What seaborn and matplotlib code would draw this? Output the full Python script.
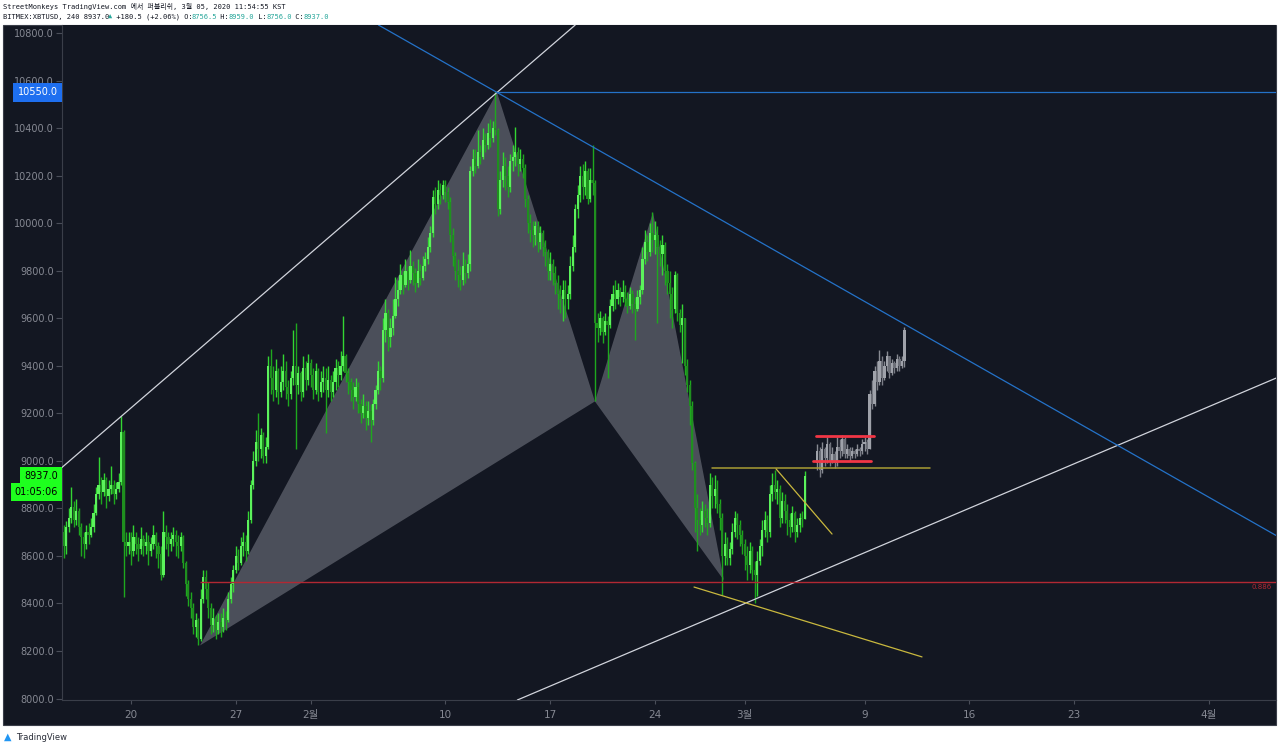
import matplotlib
matplotlib.use("Agg")
import matplotlib.pyplot as plt
import numpy as np
import pandas as pd
import seaborn as sns

# BITMEX:XBTUSD 4h candles, x axis = days since 2020-01-01 (one row per day)
start_day = 14.5
first_open = 8700.0
closes = [
    8640, 8720, 8760,
    8805, 8750, 8790, 8720, 8680, 8650,
    8700, 8690, 8720, 8780, 8860, 8900,
    8870, 8920, 8850, 8880, 8900, 8860,
    8880, 8910, 9120, 8660, 8640, 8660,
    8620, 8680, 8650, 8630, 8670, 8640,
    8660, 8620, 8650, 8690, 8640, 8610,
    8520, 8700, 8680, 8650, 8670, 8690,
    8660, 8640, 8680, 8570, 8480, 8420,
    8380, 8300, 8330, 8250, 8420, 8510,
    8460, 8380, 8310, 8340, 8290, 8320,
    8300, 8340, 8330, 8420, 8480, 8540,
    8600, 8570, 8640, 8660, 8620, 8750,
    8900, 9000, 9080, 9050, 9110, 9020,
    9060, 9400, 9350, 9300, 9380, 9290,
    9330, 9380, 9310, 9280, 9350, 9400,
    9320, 9370, 9290, 9390, 9340, 9410,
    9360, 9300, 9380, 9290, 9330, 9350,
    9300, 9340, 9290, 9330, 9390, 9360,
    9400, 9440, 9370, 9330, 9300, 9270,
    9310, 9240, 9200, 9230, 9180, 9210,
    9170, 9240, 9300, 9380, 9350, 9550,
    9620, 9520, 9560, 9610, 9680, 9720,
    9780, 9740, 9800, 9760, 9820, 9790,
    9750, 9800, 9770, 9820, 9850, 9900,
    9960, 10110, 10080, 10140, 10120, 10160,
    10130, 10090, 9950, 9860, 9800, 9780,
    9760, 9820, 9790, 9830, 10220, 10270,
    10240, 10300, 10280, 10350, 10330, 10380,
    10360, 10400, 10390, 10060, 10180, 10240,
    10200, 10150, 10260, 10280, 10300, 10250,
    10270, 10230, 10100, 10000, 9970, 9950,
    9990, 9920, 9960, 9900, 9880, 9800,
    9830, 9790, 9750, 9700, 9680, 9720,
    9680, 9700, 9820, 9900, 10060, 10120,
    10200, 10150, 10220, 10100, 10180, 10170,
    9580, 9560, 9600, 9540, 9590, 9570,
    9650, 9700, 9680, 9720, 9690, 9710,
    9680, 9650, 9700, 9660, 9640, 9690,
    9720, 9850, 9920, 9880, 9960, 9930,
    9950, 9900, 9870, 9910, 9800, 9750,
    9700, 9640, 9780, 9620, 9570, 9600,
    9400, 9320, 9230, 8990, 8800, 8750,
    8730, 8790, 8760, 8740, 8900, 8850,
    8880, 8820, 8760, 8600, 8650, 8590,
    8630, 8700, 8760, 8730, 8690, 8650,
    8600, 8560, 8620, 8540, 8520, 8580,
    8640, 8710, 8750, 8700, 8860, 8900,
    8870, 8880, 8760, 8830, 8790, 8750,
    8720, 8780, 8700, 8730, 8760, 8756.5,
    8937,
]
highs = [
    8730, 8745, 8800,
    8888, 8830, 8840, 8800, 8740, 8700,
    8730, 8740, 8760, 8820, 8890, 9015,
    8930, 8950, 8930, 8920, 8980, 8920,
    8910, 8950, 9190, 9130, 8700, 8700,
    8700, 8730, 8700, 8680, 8720, 8690,
    8700, 8690, 8680, 8730, 8700, 8660,
    8640, 8790, 8730, 8700, 8700, 8720,
    8710, 8690, 8700, 8690, 8580, 8500,
    8450, 8400, 8360, 8340, 8460, 8540,
    8540, 8490, 8400, 8380, 8350, 8360,
    8360, 8380, 8370, 8450, 8510, 8560,
    8640, 8630, 8680, 8700, 8690, 8790,
    8920, 9040, 9130, 9200, 9140, 9120,
    9100, 9440, 9470, 9400, 9430, 9390,
    9400, 9450, 9420, 9340, 9380, 9550,
    9580, 9400, 9380, 9440, 9420, 9450,
    9430, 9390, 9410, 9390, 9380, 9400,
    9390, 9400, 9360, 9380, 9430, 9420,
    9460, 9610, 9450, 9390, 9350, 9330,
    9350, 9330, 9260, 9280, 9250, 9250,
    9240, 9260, 9320, 9420, 9400, 9600,
    9680, 9640, 9600, 9680, 9775, 9760,
    9830, 9800, 9850, 9820, 9885, 9840,
    9810, 9850, 9830, 9860, 9880, 9940,
    9990, 10140, 10150, 10180, 10170, 10180,
    10180, 10150, 10110, 9980, 9880, 9850,
    9820, 9880, 9850, 9870, 10240, 10310,
    10310, 10390, 10330, 10400, 10380, 10420,
    10440, 10430, 10550, 10400, 10220, 10300,
    10280, 10240, 10290, 10330, 10405, 10320,
    10310, 10290, 10250, 10120, 10040, 10010,
    10010, 10010, 9990, 9970, 9930, 9890,
    9880, 9850, 9820, 9780, 9740, 9760,
    9760, 9740, 9860, 9950, 10080, 10160,
    10240, 10250, 10260, 10230, 10230, 10330,
    10180, 9620, 9630, 9610, 9620, 9610,
    9680, 9740, 9760, 9750, 9730, 9760,
    9740, 9710, 9730, 9720, 9690, 9720,
    9740, 9900, 9970, 9950, 10000, 10045,
    10010, 9990, 9930, 9950, 9920, 9830,
    9800, 9730, 9800, 9790, 9640, 9660,
    9600, 9430, 9340, 9250, 9000, 8860,
    8800, 8830, 8820, 8800, 8950, 8930,
    8940, 8920, 8840, 8780, 8700, 8680,
    8660, 8740, 8790, 8780, 8750, 8710,
    8670, 8640, 8660, 8640, 8580, 8620,
    8670, 8750, 8790, 8770, 8900, 8950,
    8960, 8920, 8900, 8870, 8860, 8820,
    8780, 8810, 8790, 8760, 8780, 8790,
    8959,
]
lows = [
    8590, 8610, 8700,
    8740, 8720, 8730, 8690, 8600, 8590,
    8630, 8650, 8680, 8700, 8770, 8840,
    8820, 8850, 8800, 8830, 8860, 8820,
    8840, 8870, 8900, 8425, 8600, 8610,
    8560, 8600, 8610, 8580, 8610, 8600,
    8610, 8560, 8600, 8630, 8590, 8550,
    8500, 8510, 8630, 8600, 8620, 8640,
    8600, 8590, 8620, 8550, 8430, 8390,
    8340, 8270, 8260, 8225, 8240, 8400,
    8420, 8340, 8270, 8280, 8250, 8270,
    8260, 8280, 8290, 8320, 8400, 8450,
    8530, 8540, 8560, 8600, 8580, 8610,
    8740, 8880, 8980, 9000, 9010, 8990,
    8990, 9050, 9280, 9250, 9270, 9240,
    9270, 9300, 9260, 9230, 9260, 9320,
    9050, 9280, 9250, 9270, 9300, 9320,
    9310, 9260, 9280, 9250, 9270, 9290,
    9115, 9270, 9250, 9270, 9300, 9310,
    9340, 9380, 9330, 9280, 9250, 9220,
    9250, 9200, 9160, 9180, 9130, 9150,
    9080, 9150, 9220, 9280, 9300, 9330,
    9500, 9460, 9480, 9530, 9600, 9650,
    9700, 9700, 9730, 9720, 9750, 9740,
    9710, 9730, 9740, 9760, 9800, 9830,
    9880, 9940, 10040, 10060, 10080, 10100,
    10090, 10060, 9920, 9820, 9760, 9730,
    9720, 9740, 9750, 9770, 9800, 10200,
    10210, 10230, 10250, 10270, 10300, 10310,
    10320, 10340, 10370, 10030, 10040, 10150,
    10140, 10110, 10130, 10220, 10240, 10200,
    10220, 10190, 10070, 9960, 9920, 9900,
    9910, 9880, 9890, 9860, 9820, 9760,
    9760, 9740, 9700, 9640, 9620, 9590,
    9600, 9640, 9680, 9800, 9880, 10020,
    10090, 10100, 10120, 10080, 10090, 10120,
    9250, 9500, 9530, 9495, 9530, 9350,
    9560, 9630, 9640, 9660, 9650, 9670,
    9650, 9620, 9640, 9620, 9510, 9630,
    9660, 9700, 9830, 9840, 9860, 9880,
    9870, 9580, 9820, 9780, 9740, 9700,
    9600, 9560, 9620, 9590, 9540, 9410,
    9360, 9290, 9150, 8960, 8700, 8620,
    8690, 8700, 8720, 8690, 8720, 8800,
    8800, 8780, 8710, 8435, 8560, 8560,
    8560, 8610, 8680, 8670, 8640, 8610,
    8540, 8500, 8530, 8500, 8400, 8430,
    8560, 8600, 8680, 8660, 8680, 8830,
    8840, 8820, 8720, 8740, 8740, 8690,
    8680, 8700, 8660, 8680, 8700, 8720,
    8756,
]

# grey projected bars (bars-pattern drawing)
proj_start = 64 + 5 / 6
proj_open = 8990.0
proj_closes = [9040, 8960, 9050, 9010, 9070, 9000, 9030, 8990, 9060, 9040, 9090, 9030,
               9050, 9020, 9040, 9030, 9050, 9040, 9070, 9080, 9050, 9280, 9240, 9380,
               9330, 9420, 9350, 9400, 9440, 9370, 9410, 9390, 9430, 9400, 9420, 9550]
proj_highs = [9070, 9060, 9080, 9060, 9100, 9080, 9060, 9040, 9100, 9090, 9110, 9100,
              9070, 9060, 9060, 9050, 9070, 9060, 9090, 9100, 9090, 9300, 9340, 9400,
              9420, 9465, 9440, 9420, 9460, 9440, 9430, 9420, 9450, 9440, 9440, 9565]
proj_lows = [8960, 8930, 8950, 8980, 8990, 8980, 8990, 8970, 8980, 9010, 9020, 9010,
             9010, 9000, 9010, 9010, 9020, 9020, 9030, 9040, 9030, 9050, 9220, 9230,
             9300, 9320, 9320, 9340, 9380, 9350, 9360, 9370, 9380, 9380, 9390, 9395]

# XABCD harmonic points
pattern_days = [23.61, 43.45, 49.99, 53.87, 58.61]
pattern_prices = [8223, 10550, 9250, 10046, 8497]
fib_ratio = 0.886

# drawings: two anchor points each (day, price)
white_hi_days, white_hi_prices = [18.4, 43.45], [9190, 10550]
white_lo_days, white_lo_prices = [45.12, 95.49], [8002, 9348]
blue_days, blue_prices = [43.45, 95.49], [10550, 8686]
yellow_flat_days, yellow_flat_prices = [57.81, 72.37], [8968, 8968]
yellow_diag_days, yellow_diag_prices = [62.09, 65.83], [8966, 8692]
yellow_low_days, yellow_low_prices = [56.61, 71.84], [8469, 8175]
flag_top_days, flag_top_prices = [64.76, 68.63], [9103, 9103]
flag_bot_days, flag_bot_prices = [64.56, 68.43], [8998, 8998]

ytick_vals = list(range(8000, 10801, 200))
xtick_days = [19, 26, 31, 40, 47, 54, 60, 68, 75, 82, 91]
xtick_labels = ['20', '27', '2월', '10', '17', '24', '3월', '9', '16', '23', '4월']
countdown = '01:05:06'

BG = '#131722'
TXT = '#868993'
UP_BODY, DN_BODY = '#5cf25c', '#1f8f1f'
UP_WICK, DN_WICK = '#33d633', '#1ea81e'

sns.set_theme(style='dark')
plt.rcParams['font.family'] = ['DejaVu Sans', 'Noto Sans CJK KR']

W, H = 1280, 746
fig = plt.figure(figsize=(W / 100, H / 100), dpi=100)
fig.patch.set_facecolor('white')
fig.patches.append(plt.Rectangle((3 / W, 21 / H), 1273 / W, 700 / H, transform=fig.transFigure,
                                 fc=BG, ec='#3a3e49', lw=0.8, zorder=-5))
ax = fig.add_axes([62 / W, 46 / H, 1214 / W, 675 / H])
ax.set_zorder(2)
ax.set_facecolor(BG)
ax.set_xlim(14.391, 95.487)
ax.set_ylim(7993.7, 10833.7)


def draw_candles(x0, o0, c, h, l, up_body, dn_body, up_wick, dn_wick, width):
    c = np.asarray(c, float)
    h = np.asarray(h, float)
    l = np.asarray(l, float)
    o = np.r_[o0, c[:-1]]
    x = x0 + np.arange(len(c)) / 6
    up = c >= o
    ax.vlines(x, l, h, colors=np.where(up, up_wick, dn_wick), lw=1.0, zorder=3)
    ax.bar(x, np.abs(c - o), bottom=np.minimum(o, c), width=width,
           color=np.where(up, up_body, dn_body), linewidth=0, zorder=4)
    return o


# harmonic triangles XAB and BCD
pat = pd.DataFrame({'day': pattern_days, 'price': pattern_prices})
for idx in ([0, 1, 2], [2, 3, 4]):
    ax.fill(pat['day'].iloc[idx], pat['price'].iloc[idx], color='#9b9ea8', alpha=0.42, lw=0, zorder=1)

opens = draw_candles(start_day, first_open, closes, highs, lows, UP_BODY, DN_BODY, UP_WICK, DN_WICK, 0.145)
draw_candles(proj_start, proj_open, proj_closes, proj_highs, proj_lows,
             '#9fa2aa', '#6c6f78', '#878a92', '#7a7d86', 0.145)

# infinite trend lines
ax.axline((white_hi_days[0], white_hi_prices[0]), (white_hi_days[1], white_hi_prices[1]),
          color='#d1d4dc', lw=0.9, zorder=5)
ax.axline((white_lo_days[0], white_lo_prices[0]), (white_lo_days[1], white_lo_prices[1]),
          color='#d1d4dc', lw=0.9, zorder=5)
ax.axline((blue_days[0], blue_prices[0]), (blue_days[1], blue_prices[1]),
          color='#2472c8', lw=0.9, zorder=5)
ax.hlines(pattern_prices[1], pattern_days[1], 95.487, color='#2472c8', lw=0.9, zorder=5)

# 0.886 retracement of XA
fib_level = pattern_prices[1] - fib_ratio * (pattern_prices[1] - pattern_prices[0])
ax.hlines(fib_level, pattern_days[0], 95.487, color='#b22833', lw=1.0, zorder=5)
ax.text(0.9967, fib_level - 8, f'{fib_ratio:.3f}', transform=ax.get_yaxis_transform(),
        ha='right', va='top', color='#b22833', fontsize=5)

for dd, pp, col, lw in [(yellow_flat_days, yellow_flat_prices, '#a89d33', 1.1),
                        (yellow_diag_days, yellow_diag_prices, '#c9b83e', 0.9),
                        (yellow_low_days, yellow_low_prices, '#c9b83e', 0.9),
                        (flag_top_days, flag_top_prices, '#f23645', 2.0),
                        (flag_bot_days, flag_bot_prices, '#f23645', 2.0)]:
    sns.lineplot(x=dd, y=pp, ax=ax, color=col, lw=lw, zorder=6)

# axes styling
ax.grid(False)
for side in ['top', 'right']:
    ax.spines[side].set_visible(False)
for side in ['left', 'bottom']:
    ax.spines[side].set_color('#3a3e49')
    ax.spines[side].set_linewidth(0.8)
ax.set_yticks(ytick_vals)
ax.set_yticklabels([f'{v:.1f}' for v in ytick_vals])
ax.set_xticks(xtick_days)
ax.set_xticklabels(xtick_labels)
ax.tick_params(axis='y', labelcolor=TXT, color='#4a4e59', labelsize=7, length=4, width=0.8, pad=2,
               left=True)
ax.tick_params(axis='x', labelcolor=TXT, color='#4a4e59', labelsize=7.5, length=3, width=0.8, pad=4,
               bottom=True)
ax.set_xlabel('')
ax.set_ylabel('')

# price labels on the scale
ytr = ax.get_yaxis_transform()
ax.annotate(f'{pattern_prices[1]:.1f}', xy=(0, pattern_prices[1]), xycoords=ytr, xytext=(-3, 0),
            textcoords='offset points', ha='right', va='center', fontsize=7, color='white',
            bbox=dict(boxstyle='square,pad=0.45', fc='#1e6ff0', ec='none'), annotation_clip=False, zorder=10)
ax.annotate(f'{closes[-1]:.1f}', xy=(0, closes[-1]), xycoords=ytr, xytext=(-3, 0),
            textcoords='offset points', ha='right', va='center', fontsize=7, color='black',
            bbox=dict(boxstyle='square,pad=0.4', fc='#1eff1e', ec='none'), annotation_clip=False, zorder=10)
ax.annotate(countdown, xy=(0, closes[-1]), xycoords=ytr, xytext=(-3, -11.5),
            textcoords='offset points', ha='right', va='center', fontsize=7, color='black',
            bbox=dict(boxstyle='square,pad=0.4', fc='#1eff1e', ec='none'), annotation_clip=False, zorder=10)

# header
mono = ['DejaVu Sans Mono', 'Noto Sans CJK KR']
fs = 5.0
fig.text(3 / W, 1 - 6 / H, 'StreetMonkeys TradingView.com 에서 퍼블리쉬, 3월 05, 2020 11:54:55 KST',
         family=mono, fontsize=fs, color='#131722', va='center')
last_o, last_c = opens[-1], closes[-1]
chg = last_c - closes[-2]
teal, dark = '#26a69a', '#131722'
parts = [(f'BITMEX:XBTUSD, 240 {last_c:.1f}', dark), ('▲', teal),
         (f' +{chg:.1f} (+{chg / closes[-2] * 100:.2f}%) O:', dark), (f'{last_o:.1f}', teal),
         (' H:', dark), (f'{highs[-1]:.1f}', teal), (' L:', dark), (f'{lows[-1]:.1f}', teal),
         (' C:', dark), (f'{last_c:.1f}', teal)]
charw = fs * 0.602 * 100 / 72
xpos = 3
for txt, col in parts:
    fig.text(xpos / W, 1 - 17 / H, txt, family=mono, fontsize=fs, color=col, va='center')
    xpos += len(txt) * charw

# footer logo
fig.text(4 / W, 9 / H, '▲', color='#2196f3', fontsize=7, va='center')
fig.text(16 / W, 9 / H, 'TradingView', color='#2a2e39', fontsize=6, va='center')

fig.savefig('out.png', dpi=100, facecolor=fig.get_facecolor())
